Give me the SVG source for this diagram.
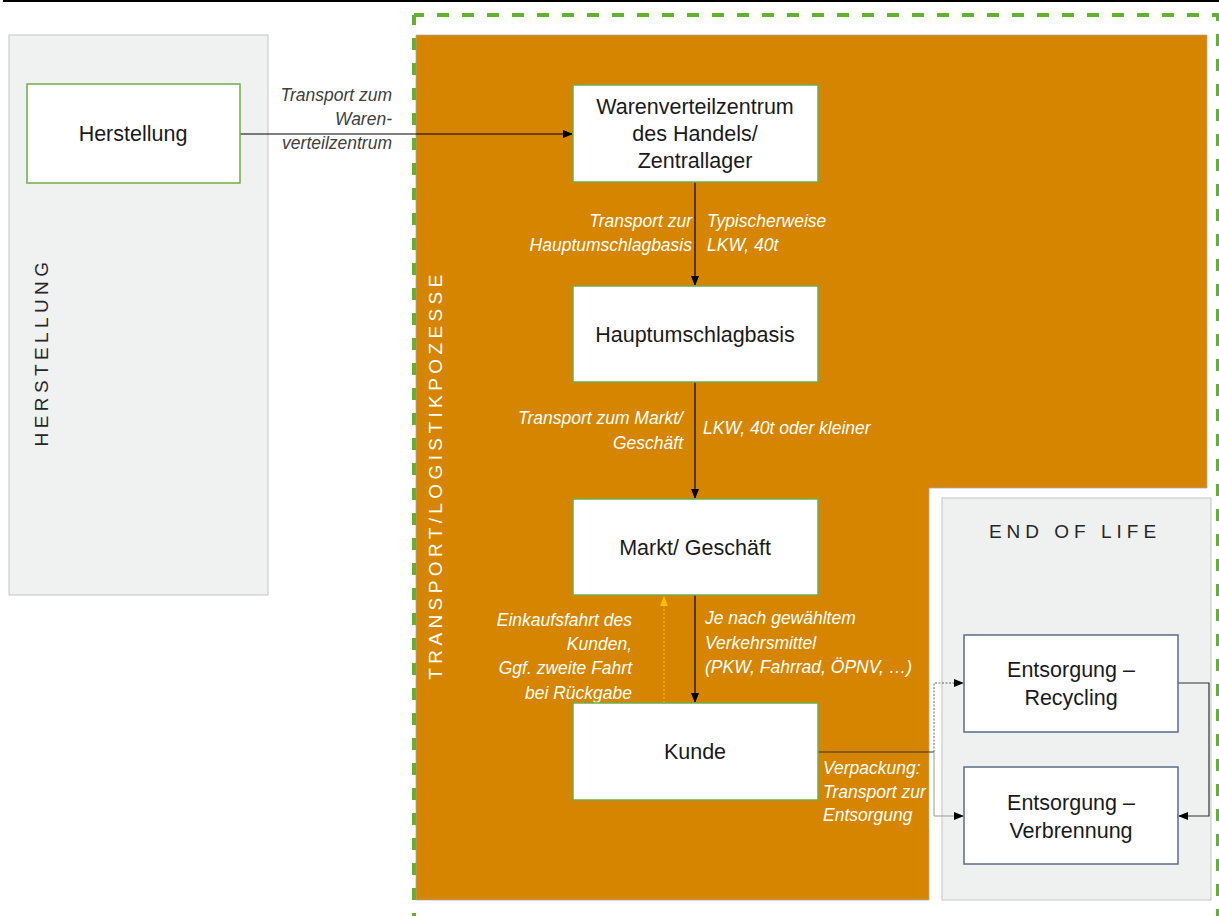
<svg xmlns="http://www.w3.org/2000/svg" width="1219" height="916" viewBox="0 0 1219 916">
<style>
.box{fill:#fff;stroke:#70ad47;stroke-width:1.5}
.eol{fill:#fff;stroke:#5b6b86;stroke-width:1.5}
.bt{font-family:"Liberation Sans",Arial,sans-serif;font-size:21.5px;fill:#1a1a1a;text-anchor:middle}
.lw{font-family:"Liberation Sans",Arial,sans-serif;font-size:17.5px;font-style:italic;fill:#fff}
.lg{font-family:"Liberation Sans",Arial,sans-serif;font-size:17.5px;font-style:italic;fill:#404040}
.vt{font-family:"Liberation Sans",Arial,sans-serif;font-size:19px;letter-spacing:4.4px;text-anchor:middle}
.c{fill:none;stroke:#000;stroke-width:1.2}
</style>
<defs>
<marker id="ah" markerWidth="10" markerHeight="10" refX="9" refY="5" orient="auto" markerUnits="userSpaceOnUse">
<path d="M0,1 L10,5 L0,9 Z" fill="#000"/>
</marker>
<marker id="ay" markerWidth="10" markerHeight="10" refX="9" refY="5" orient="auto" markerUnits="userSpaceOnUse">
<path d="M0,1 L10,5 L0,9 Z" fill="#ffc000"/>
</marker>
</defs>
<rect width="1219" height="916" fill="#fff"/>
<line x1="3" y1="1" x2="1219" y2="1" stroke="#000" stroke-width="2"/>
<g id="panel-herstellung">
<rect x="9" y="35" width="259" height="560" fill="#f0f1f1" stroke="#c4c4c4" stroke-width="1"/>
<text class="vt" fill="#262626" transform="translate(48,352) rotate(-90)">HERSTELLUNG</text>
</g>
<g id="panel-transport">
<path d="M416,35 H1207 V488 H929 V900 H416 Z" fill="#d68500" stroke="#a8a8a8" stroke-width="0.8"/>
<text class="vt" fill="#fff" transform="translate(442,475) rotate(-90)">TRANSPORT/LOGISTIKPOZESSE</text>
</g>
<g id="labels">
<text class="lg" text-anchor="end"><tspan x="392" y="101">Transport zum</tspan><tspan x="392" y="125">Waren-</tspan><tspan x="392" y="149">verteilzentrum</tspan></text>
<text class="lw" text-anchor="end"><tspan x="692" y="227">Transport zur</tspan><tspan x="692" y="251">Hauptumschlagbasis</tspan></text>
<text class="lw"><tspan x="707" y="227">Typischerweise</tspan><tspan x="707" y="251">LKW, 40t</tspan></text>
<text class="lw" text-anchor="end"><tspan x="683" y="424">Transport zum Markt/</tspan><tspan x="683" y="449">Geschäft</tspan></text>
<text class="lw" x="703" y="434">LKW, 40t oder kleiner</text>
<text class="lw" text-anchor="end"><tspan x="632" y="626">Einkaufsfahrt des</tspan><tspan x="632" y="650">Kunden,</tspan><tspan x="632" y="674">Ggf. zweite Fahrt</tspan><tspan x="632" y="699">bei Rückgabe</tspan></text>
<text class="lw"><tspan x="705" y="624">Je nach gewähltem</tspan><tspan x="705" y="649">Verkehrsmittel</tspan><tspan x="705" y="673">(PKW, Fahrrad, ÖPNV, …)</tspan></text>
<text class="lw"><tspan x="823" y="774">Verpackung:</tspan><tspan x="823" y="798">Transport zur</tspan><tspan x="823" y="821">Entsorgung</tspan></text>
</g>
<rect x="929.5" y="760" width="12" height="70" fill="#fff"/>
<g id="panel-eol">
<rect x="942" y="498" width="269" height="402" fill="#eff0f0" stroke="#c4c4c4" stroke-width="1"/>
<text class="vt" fill="#262626" x="1075" y="538" style="letter-spacing:5px">END OF LIFE</text>
</g>
<g id="frame">
<path d="M414,15 V916" fill="none" stroke="#63b032" stroke-width="4" stroke-dasharray="12 13" stroke-dashoffset="2"/>
<path d="M414,15 H1218 V916" fill="none" stroke="#63b032" stroke-width="4" stroke-dasharray="12 13" stroke-dashoffset="2"/>
</g>
<g id="connectors">
<line x1="240" y1="134" x2="572" y2="134" class="c" stroke="#555" marker-end="url(#ah)"/>
<line x1="695" y1="182" x2="695" y2="285" class="c" marker-end="url(#ah)"/>
<line x1="695" y1="382" x2="695" y2="498" class="c" marker-end="url(#ah)"/>
<line x1="695" y1="595" x2="695" y2="702" class="c" marker-end="url(#ah)"/>
<line x1="664" y1="703" x2="664" y2="597" fill="none" stroke="#ffc000" stroke-width="1" stroke-dasharray="2 2" marker-end="url(#ay)"/>
<line x1="818" y1="752" x2="934" y2="752" stroke="#333" stroke-width="1.2"/>
<path d="M934,752 V683 H963" fill="none" stroke="#666" stroke-width="1" stroke-dasharray="2 1.5" marker-end="url(#ah)"/>
<path d="M934,752 V816 H963" fill="none" stroke="#999" stroke-width="1" marker-end="url(#ah)"/>
<path d="M1178,683 H1209 V816 H1179" fill="none" stroke="#333" stroke-width="1.2" marker-end="url(#ah)"/>
</g>
<g id="node-herstellung">
<rect class="box" x="27" y="84" width="213" height="99"/>
<text class="bt" x="133" y="141">Herstellung</text>
</g>
<g id="node-warenverteilzentrum">
<rect class="box" x="573" y="85" width="245" height="97"/>
<text class="bt"><tspan x="695" y="114">Warenverteilzentrum</tspan><tspan x="695" y="141">des Handels/</tspan><tspan x="695" y="168">Zentrallager</tspan></text>
</g>
<g id="node-hauptumschlagbasis">
<rect class="box" x="573" y="286" width="245" height="96"/>
<text class="bt" x="695" y="342">Hauptumschlagbasis</text>
</g>
<g id="node-markt">
<rect class="box" x="573" y="499" width="245" height="96"/>
<text class="bt" x="695" y="555">Markt/ Geschäft</text>
</g>
<g id="node-kunde">
<rect class="box" x="573" y="703" width="245" height="97"/>
<text class="bt" x="695" y="759">Kunde</text>
</g>
<g id="node-recycling">
<rect class="eol" x="964" y="635" width="214" height="97"/>
<text class="bt"><tspan x="1071" y="677">Entsorgung –</tspan><tspan x="1071" y="705">Recycling</tspan></text>
</g>
<g id="node-verbrennung">
<rect class="eol" x="964" y="767" width="214" height="97"/>
<text class="bt"><tspan x="1071" y="810">Entsorgung –</tspan><tspan x="1071" y="838">Verbrennung</tspan></text>
</g>
</svg>
